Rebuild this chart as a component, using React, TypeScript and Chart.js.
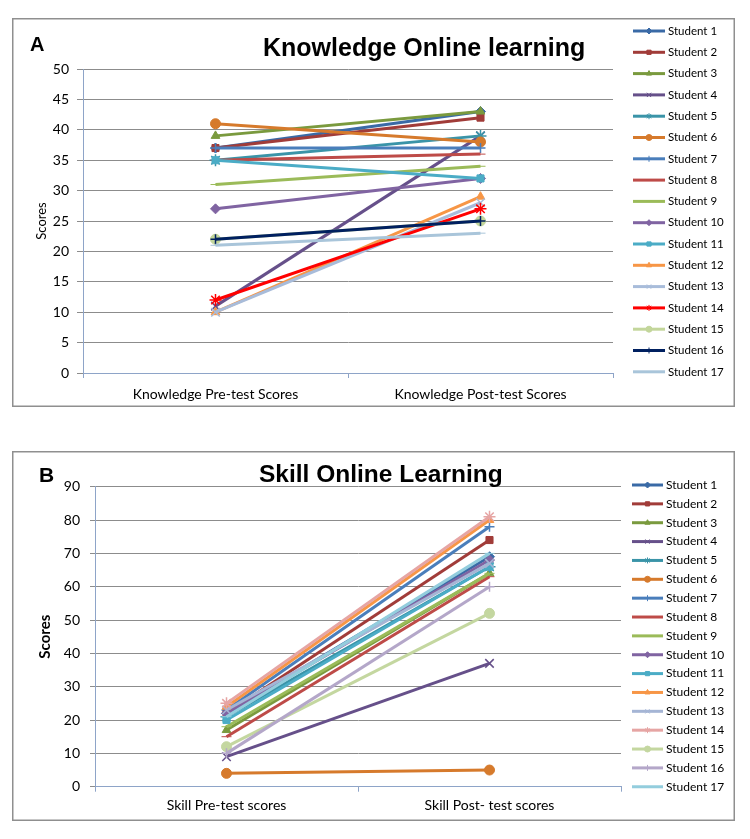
import React, { useEffect, useRef } from 'react';
import { Chart, registerables } from 'chart.js';
import { drawPoint } from 'chart.js/helpers';

Chart.register(...registerables);

const studentNames = [
  'Student 1', 'Student 2', 'Student 3', 'Student 4', 'Student 5', 'Student 6',
  'Student 7', 'Student 8', 'Student 9', 'Student 10', 'Student 11', 'Student 12',
  'Student 13', 'Student 14', 'Student 15', 'Student 16', 'Student 17',
];

const knowledgeCategories = ['Knowledge Pre-test Scores', 'Knowledge Post-test Scores'];
const knowledgePre = [37, 37, 39, 11, 35, 41, 37, 35, 31, 27, 35, 10, 10, 12, 22, 22, 21];
const knowledgePost = [43, 42, 43, 39, 39, 38, 37, 36, 34, 32, 32, 29, 28, 27, 25, 25, 23];

const skillCategories = ['Skill Pre-test scores', 'Skill Post- test scores'];
const skillPre = [22, 22, 17, 9, 21, 4, 23, 15, 18, 22, 20, 24, 23, 25, 12, 10, 21];
const skillPost = [69, 74, 64, 37, 66, 5, 78, 63, 64, 68, 66, 80, 67, 81, 52, 60, 70];

const knowledgeColors = [
  '#3A6AA6', '#A13C39', '#7A9A3E', '#66508A', '#3A94A8', '#D67A2C',
  '#4A7EBB', '#BE4B48', '#9BBB59', '#8064A2', '#4BACC6', '#F79646',
  '#A8BCDA', '#FF0000', '#C3D69B', '#002060', '#A9C5DA',
];
const skillColors = [
  '#3A6AA6', '#A13C39', '#7A9A3E', '#66508A', '#3A94A8', '#D67A2C',
  '#4A7EBB', '#BE4B48', '#9BBB59', '#8064A2', '#4BACC6', '#F79646',
  '#A5B5D5', '#E6A5A4', '#C4D7A0', '#B4A7C9', '#93CDDD',
];
const markerStyles = [
  'rectRot', 'rect', 'triangle', 'crossRot', 'star', 'circle', 'cross', 'line', 'line',
  'rectRot', 'rect', 'triangle', 'crossRot', 'star', 'circle', 'cross', 'line',
];

const knowledgeTicks = { min: 0, max: 50, step: 5 };
const skillTicks = { min: 0, max: 90, step: 10 };

const AXIS_COLOR = '#8EA4C8';
const GRID_COLOR = '#8c8c8c';
const LABEL_FONT = 'Lato';

const decorPlugin = {
  id: 'decor',
  beforeDraw(chart: any) {
    const ctx = chart.ctx;
    ctx.save();
    ctx.fillStyle = '#ffffff';
    ctx.fillRect(0, 0, chart.width, chart.height);
    ctx.restore();
  },
  afterDraw(chart: any, _args: any, o: any) {
    const ctx = chart.ctx;
    ctx.save();
    ctx.strokeStyle = '#8f8f8f';
    ctx.lineWidth = 1.5;
    ctx.strokeRect(0.75, 0.75, chart.width - 1.5, chart.height - 1.5);

    ctx.fillStyle = '#000';
    ctx.textAlign = 'left';
    ctx.textBaseline = 'alphabetic';
    ctx.font = `bold ${o.letterSize}px "Liberation Sans", Arial, sans-serif`;
    ctx.fillText(o.letter, o.letterX, o.letterY);
    ctx.font = `bold ${o.titleSize}px "Liberation Sans", Arial, sans-serif`;
    ctx.fillText(o.title, o.titleX, o.titleY);

    chart.data.datasets.forEach((ds: any, i: number) => {
      const y = o.legendY + i * o.legendGap;
      ctx.strokeStyle = ds.borderColor;
      ctx.lineWidth = 3;
      ctx.beginPath();
      ctx.moveTo(o.legendX0, y);
      ctx.lineTo(o.legendX1, y);
      ctx.stroke();
      ctx.fillStyle = ds.borderColor;
      ctx.strokeStyle = ds.borderColor;
      ctx.lineWidth = 1;
      drawPoint(ctx, { pointStyle: ds.pointStyle, radius: 3, borderWidth: 1, rotation: 0 } as any,
        (o.legendX0 + o.legendX1) / 2, y);
      ctx.fillStyle = '#000';
      ctx.font = `${o.legendFont}px ${LABEL_FONT}`;
      ctx.textBaseline = 'middle';
      ctx.fillText(ds.label, o.legendTextX, y);
    });
    ctx.restore();
  },
};

function buildDatasets(pre: number[], post: number[], colors: string[]) {
  return studentNames.map((name, i) => ({
    label: name,
    data: [pre[i], post[i]],
    borderColor: colors[i],
    backgroundColor: colors[i],
    pointBackgroundColor: colors[i],
    pointBorderColor: colors[i],
    pointStyle: markerStyles[i],
    pointRadius: markerStyles[i] === 'crossRot' || markerStyles[i] === 'star' ? 6 : 5,
    pointBorderWidth: markerStyles[i] === 'crossRot' || markerStyles[i] === 'star' || markerStyles[i] === 'cross' ? 1.5 : 1,
    borderWidth: 3,
    tension: 0,
    order: -i,
  }));
}

type Cfg = {
  categories: string[];
  pre: number[];
  post: number[];
  colors: string[];
  ticks: { min: number; max: number; step: number };
  width: number;
  height: number;
  padTop: number;
  padRight: number;
  yWidth: number;
  xHeight: number;
  yTickPad: number;
  yTickLen: number;
  xTickPad: number;
  yTitleFont: any;
  yTitlePad: number;
  decor: any;
};

function LineChart({ cfg, left, top }: { cfg: Cfg; left: number; top: number }) {
  const ref = useRef<HTMLCanvasElement | null>(null);
  useEffect(() => {
    if (!ref.current) return;
    const chart = new Chart(ref.current, {
      type: 'line',
      data: {
        labels: cfg.categories,
        datasets: buildDatasets(cfg.pre, cfg.post, cfg.colors) as any,
      },
      plugins: [decorPlugin as any],
      options: {
        responsive: false,
        animation: false,
        layout: { padding: { top: cfg.padTop, right: cfg.padRight, left: 0, bottom: 0 } },
        plugins: {
          legend: { display: false },
          tooltip: { enabled: false },
          title: { display: false },
          decor: cfg.decor,
        } as any,
        scales: {
          x: {
            type: 'category',
            offset: true,
            grid: {
              display: true,
              drawOnChartArea: false,
              drawTicks: true,
              tickLength: 5,
              offset: true,
              color: AXIS_COLOR,
            },
            border: { display: true, color: AXIS_COLOR, width: 1 },
            ticks: {
              font: { family: LABEL_FONT, size: 14 },
              color: '#000',
              padding: cfg.xTickPad,
              maxRotation: 0,
              autoSkip: false,
            },
            afterFit(scale: any) {
              scale.height = cfg.xHeight;
            },
          },
          y: {
            type: 'linear',
            min: cfg.ticks.min,
            max: cfg.ticks.max,
            ticks: {
              stepSize: cfg.ticks.step,
              font: { family: LABEL_FONT, size: 14 },
              color: '#000',
              padding: cfg.yTickPad,
            },
            grid: {
              color: GRID_COLOR,
              lineWidth: 1,
              drawTicks: true,
              tickLength: cfg.yTickLen,
            },
            border: { display: true, color: AXIS_COLOR, width: 1 },
            title: {
              display: true,
              text: 'Scores',
              color: '#000',
              font: cfg.yTitleFont,
              padding: { top: cfg.yTitlePad, bottom: 0 },
            },
            afterFit(scale: any) {
              scale.width = cfg.yWidth;
            },
          },
        },
      } as any,
    });
    return () => chart.destroy();
  }, [cfg]);
  return (
    <canvas
      ref={ref}
      width={cfg.width}
      height={cfg.height}
      style={{ position: 'absolute', left, top, width: cfg.width, height: cfg.height }}
    />
  );
}

const knowledgeCfg: Cfg = {
  categories: knowledgeCategories,
  pre: knowledgePre,
  post: knowledgePost,
  colors: knowledgeColors,
  ticks: knowledgeTicks,
  width: 723,
  height: 389,
  padTop: 51,
  padRight: 122,
  yWidth: 71,
  xHeight: 34,
  yTickPad: 8,
  yTickLen: 6,
  xTickPad: 8,
  yTitleFont: { family: LABEL_FONT, size: 13 },
  yTitlePad: 22,
  decor: {
    letter: 'A', letterSize: 20, letterX: 18, letterY: 33,
    title: 'Knowledge Online learning', titleSize: 25, titleX: 251, titleY: 38,
    legendX0: 621, legendX1: 653, legendTextX: 656, legendY: 13, legendGap: 21.3, legendFont: 11.5,
  },
};

const skillCfg: Cfg = {
  categories: skillCategories,
  pre: skillPre,
  post: skillPost,
  colors: skillColors,
  ticks: skillTicks,
  width: 723,
  height: 370,
  padTop: 35.7,
  padRight: 114,
  yWidth: 83,
  xHeight: 34.3,
  yTickPad: 10,
  yTickLen: 5,
  xTickPad: 5.5,
  yTitleFont: { family: LABEL_FONT, size: 15, weight: 'bold' },
  yTitlePad: 24,
  decor: {
    letter: 'B', letterSize: 21, letterX: 27, letterY: 31,
    title: 'Skill Online Learning', titleSize: 24.5, titleX: 247, titleY: 31,
    legendX0: 620, legendX1: 651, legendTextX: 654, legendY: 34, legendGap: 18.86, legendFont: 12,
  },
};

export default function App() {
  return (
    <div style={{ position: 'absolute', left: 0, top: 0, width: 750, height: 839, background: '#fff' }}>
      <LineChart cfg={knowledgeCfg} left={12} top={18} />
      <LineChart cfg={skillCfg} left={12} top={451} />
    </div>
  );
}
